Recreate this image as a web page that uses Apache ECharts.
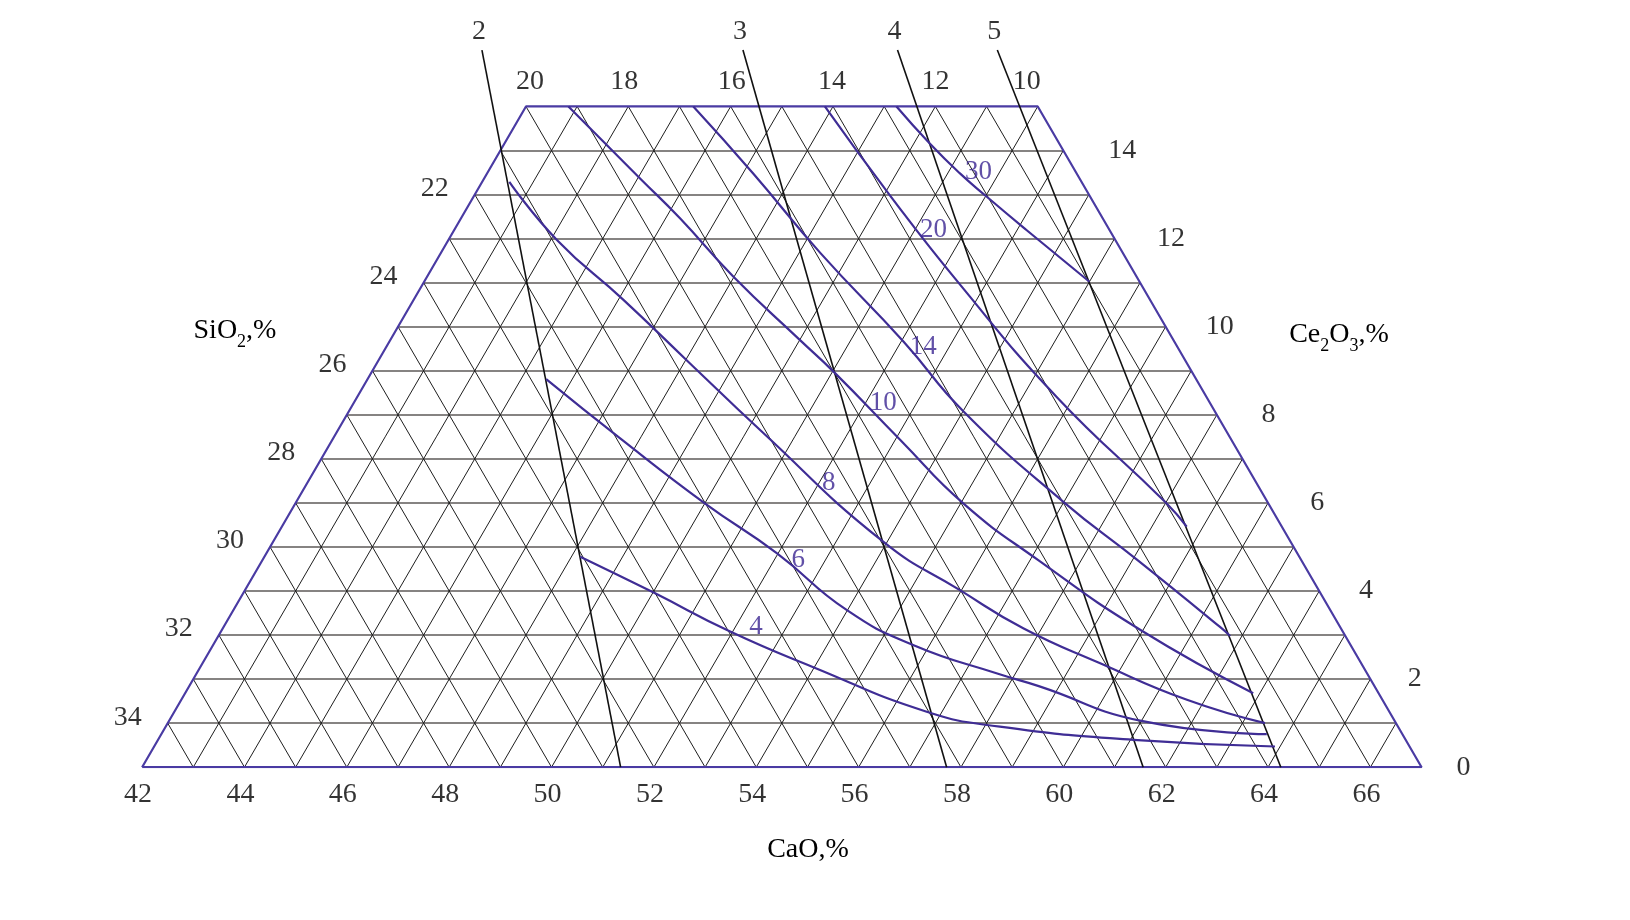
<!DOCTYPE html>
<html><head><meta charset="utf-8">
<script src="https://cdn.jsdelivr.net/npm/echarts@6/dist/echarts.min.js"></script>
<style>html,body{margin:0;padding:0;background:#fff}#c{width:1630px;height:920px}</style>
</head><body><div id="c"></div>
<script>
// ---- composition frame: CaO + SiO2 + Ce2O3 = 77 (%), section bounded by CaO>=42, SiO2>=10, Ce2O3<=15
const TOTAL = 77, CAO_MIN = 42, SIO2_MIN = 10, CE_MAX = 15;

// ---- tick labels
const caoTicks = [42,44,46,48,50,52,54,56,58,60,62,64,66];      // bottom edge
const ceTicks = [0,2,4,6,8,10,12,14];                         // right edge
const sio2SideTicks = [34,32,30,28,26,24,22];                  // left edge
const sio2TopTicks = [20,18,16,14,12,10];                      // top edge

// ---- grid line values
const gridCe = [1,2,3,4,5,6,7,8,9,10,11,12,13,14];
const gridCaO = [43,44,45,46,47,48,49,50,51,52,53,54,55,56,57,58,59,60,61,62,63,64,65,66];
const gridSiO2 = [11,12,13,14,15,16,17,18,19,20,21,22,23,24,25,26,27,28,29,30,31,32,33,34];

// ---- basicity (CaO/SiO2) lines : [CaO, Ce2O3] end points
const basicityNames = ['2','3','4','5'];
const basicityBottom = [[51.35,0],[57.72,0],[61.56,0],[64.25,0]];
const basicityTop = [[40.5,16.28],[45.6,16.28],[48.62,16.28],[50.57,16.28]];

// ---- iso curves : [CaO, Ce2O3]
const curve4 = [[48.17,4.78],[50.0,3.97],[51.95,3.08],[53.98,2.27],[56.70,1.26],[58.30,0.92],[61.06,0.62],[63.9,0.47]];
const curve6 = [[45.49,8.81],[47.6,7.47],[50.0,5.99],[51.97,4.86],[53.98,3.57],[55.69,2.77],[57.7,2.11],[58.6,1.84],[61.0,1.05],[63.6,0.75]];
const curve8 = [[42.53,13.29],[44.12,11.97],[46.10,10.61],[48.02,9.24],[50.24,7.66],[53.92,5.12],[55.97,4.02],[57.65,3.15],[59.54,2.36],[61.65,1.53],[63.44,1.0]];
const curve10 = [[42.83,15.0],[45.04,13.37],[46.28,12.46],[47.98,11.14],[50.0,9.70],[51.02,8.98],[53.10,7.43],[55.05,5.99],[57.16,4.70],[59.94,3.12],[62.87,1.68]];
const curve14 = [[45.27,15.0],[47.2,13.48],[49.42,11.67],[52.05,9.66],[54.02,8.07],[56.98,6.03],[59.1,4.70],[61.46,3.19],[61.77,2.98]];
const curve20 = [[47.84,15.0],[50.1,13.0],[52.45,11.0],[55.66,8.41],[59.02,5.99],[59.68,5.46]];
const curve30 = [[49.24,15.0],[50.31,14.16],[51.24,13.48],[52.03,12.95],[53.19,12.19],[55.0,11.02]];
const curveNames = ['4','6','8','10','14','20','30'];
const curveLabelPos = [[52.4,3.19],[52.47,4.70],[52.19,6.45],[52.35,8.26],[52.49,9.55],[51.37,12.19],[51.58,13.52]];

// ---- styling / layout
const PURPLE = '#3f2d95', LABEL_PURPLE = '#3a2491', BORDER = '#4a3ba3', INK = '#000', FONT = '"Liberation Serif", "DejaVu Serif", serif';
const topNudge = [4,-4,1,-1,0,-11];

const toXY = (a, c) => [a + c / 2, c];
const seg = (p, q) => ({ coords: [toXY(p[0], p[1]), toXY(q[0], q[1])] });

const hLines = gridCe.map(c => seg([CAO_MIN, c], [TOTAL - SIO2_MIN - c, c]));
const caoLines = gridCaO.map(a => seg([a, 0], [a, Math.min(CE_MAX, TOTAL - SIO2_MIN - a)]));
const sioLines = gridSiO2.map(s => { const ct = Math.min(CE_MAX, TOTAL - s - CAO_MIN); return seg([TOTAL - s, 0], [TOTAL - s - ct, ct]); });
const border = [[CAO_MIN,0],[CAO_MIN,CE_MAX],[TOTAL-SIO2_MIN-CE_MAX,CE_MAX],[TOTAL-SIO2_MIN,0],[CAO_MIN,0]].map(p => toXY(p[0], p[1]));

function labelSeries(items, color, size) {
  return {
    type: 'scatter', symbolSize: 0, clip: false, silent: true, z: 20,
    data: items,
    label: { show: true, position: 'inside', formatter: '{b}', color: color, fontFamily: FONT, fontSize: size }
  };
}

const bottomItems = caoTicks.map(a => ({ name: String(a), value: toXY(a, 0), label: { offset: [-4, 27] } }));
const rightItems = ceTicks.map(c => ({ name: String(c), value: toXY(TOTAL - SIO2_MIN - c, c), label: { offset: [42 + 1.2 * c, 0] } }));
const leftItems = sio2SideTicks.map(s => { const c = TOTAL - s - CAO_MIN; return { name: String(s), value: toXY(CAO_MIN, c), label: { offset: [-40, -6] } }; });
const topItems = sio2TopTicks.map((s, i) => ({ name: String(s), value: toXY(TOTAL - s - CE_MAX, CE_MAX), label: { offset: [topNudge[i], -25] } }));
const basItems = basicityNames.map((n, i) => ({ name: n, value: toXY(basicityTop[i][0], basicityTop[i][1]), label: { offset: [-3, -18] } }));
const curveItems = curveNames.map((n, i) => ({ name: n, value: toXY(curveLabelPos[i][0], curveLabelPos[i][1]) }));

const curves = [curve4, curve6, curve8, curve10, curve14, curve20, curve30];

const series = [
  { type: 'lines', coordinateSystem: 'cartesian2d', silent: true, z: 1, data: hLines, lineStyle: { color: '#5e5a58', width: 1.5, opacity: 1 } },
  { type: 'lines', coordinateSystem: 'cartesian2d', silent: true, z: 2, data: caoLines.concat(sioLines), lineStyle: { color: '#1e1e1e', width: 1, opacity: 1 } },
  { type: 'line', silent: true, z: 5, data: border, symbol: 'none', lineStyle: { color: BORDER, width: 2.2 } },
  { type: 'lines', coordinateSystem: 'cartesian2d', silent: true, z: 6, data: basicityBottom.map((b, i) => seg(b, basicityTop[i])), lineStyle: { color: '#111', width: 1.6, opacity: 1 } }
];
curves.forEach(cv => series.push({ type: 'line', silent: true, z: 8, smooth: 0.5, symbol: 'none', data: cv.map(p => toXY(p[0], p[1])), lineStyle: { color: PURPLE, width: 2.2 } }));
series.push(labelSeries(bottomItems, INK, 28));
series.push(labelSeries(rightItems, INK, 28));
series.push(labelSeries(leftItems, INK, 28));
series.push(labelSeries(topItems, INK, 28));
series.push(labelSeries(basItems, INK, 28));
series.push(labelSeries(curveItems, LABEL_PURPLE, 27));

const rich = {
  m: { fontFamily: FONT, fontSize: 28, color: INK, lineHeight: 40, verticalAlign: 'middle' },
  s: { fontFamily: FONT, fontSize: 18, color: INK, lineHeight: 18, verticalAlign: 'bottom' }
};
const chart = echarts.init(document.getElementById('c'), null, { renderer: 'canvas' });
chart.setOption({
  animation: false,
  backgroundColor: '#fff',
  grid: { left: 142.1, top: 18.35, width: 1279.5, height: 748.85 },
  xAxis: { type: 'value', min: 42, max: 67, show: false },
  yAxis: { type: 'value', min: 0, max: 17, show: false },
  series: series,
  graphic: [
    { type: 'text', x: 235, y: 331, style: { text: '{m|SiO}{s|2}{m|,%}', rich: rich, align: 'center', verticalAlign: 'middle' } },
    { type: 'text', x: 1339, y: 335, style: { text: '{m|Ce}{s|2}{m|O}{s|3}{m|,%}', rich: rich, align: 'center', verticalAlign: 'middle' } },
    { type: 'text', x: 808, y: 850, style: { text: '{m|CaO,%}', rich: rich, align: 'center', verticalAlign: 'middle' } }
  ]
});
</script></body></html>
